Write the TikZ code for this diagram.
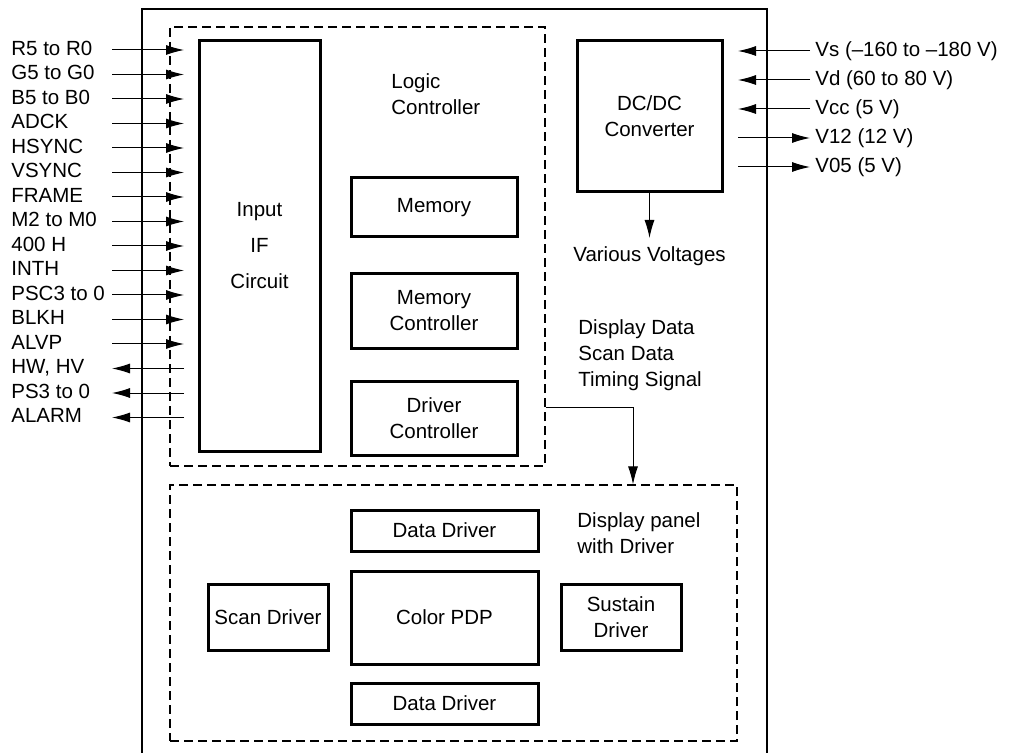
\documentclass[tikz,border=0pt]{standalone}
\usepackage{fontspec}
\setmainfont{Liberation Sans}
\usepackage{tikz}
\usetikzlibrary{positioning}
\usetikzlibrary{arrows.meta}
\usetikzlibrary{math}

\tikzset{
  block/.style={draw, line width=1.5pt, align=center, inner sep=0pt},
  group/.style={draw, line width=0.55pt, dash pattern=on 4.5pt off 2.5pt, inner sep=0pt},
  sig/.style={line width=0.5pt, -{Latex[length=9pt,width=5pt]}},
  siglabel/.style={anchor=west, inner sep=0pt, text height=0.72em, text depth=0.2em},
  note/.style={anchor=west, inner sep=0pt, align=left},
}

\begin{document}
\begin{tikzpicture}[
  x=0.5pt, y=-0.5pt,
  font=\fontsize{10.25}{13}\selectfont,
  ]

  \tikzmath{
    \sigtop  = 50;   % y of first signal on the left
    \sigstep = 24.5; % spacing of the left signals
    \sigin   = 112;  % outer end of the left signal lines
    \sigout  = 184;  % inner end of the left signal lines
    \pwrtop  = 51;   % y of first supply line on the right
    \pwrstep = 29;   % spacing of the supply lines
    \pwrin   = 738;  % inner end of the supply lines
    \pwrout  = 810;  % outer end of the supply lines
  }

  \useasboundingbox (0,0) rectangle (1011,753);

  % Outer frame of the module
  \draw[line width=0.6pt] (142,753) -- (142,9) -- (767,9) -- (767,753);

  % Logic controller
  \node[group, minimum width=187.5pt, minimum height=219.5pt] (logic) at (357.5,246.5) {};
  \node[note] (logiclbl) at (391,94) {Logic\\Controller};
  \node[block, minimum width=60.5pt, minimum height=205pt] (ifc) at (259.5,246) {Input\\[5pt]IF\\[5pt]Circuit};
  \node[block, minimum width=83pt, minimum height=29.5pt] (mem) at (434,207.5) {Memory};
  \node[block, minimum width=83pt, minimum height=37.5pt, below=16.75pt of mem] (memc) {Memory\\Controller};
  \node[block, minimum width=83pt, minimum height=37pt, below=15pt of memc] (drvc) {Driver\\Controller};

  % DC/DC converter
  \node[block, minimum width=72.5pt, minimum height=75.5pt] (dcdc) at (649.5,116.5) {DC/DC\\Converter};
  \node[inner sep=0pt] (volt) at (649.5,256) {Various Voltages};
  \coordinate (vtip) at (dcdc.south |- 0,238);
  \draw[sig] (dcdc.south) -- (vtip);

  % Display panel with driver
  \node[group, minimum width=283.5pt, minimum height=128pt] (panel) at (453.5,613) {};
  \node[note] (panellbl) at (577,533) {Display panel\\with Driver};
  \node[block, minimum width=93.5pt, minimum height=20.5pt] (dtop) at (444.5,530.5) {Data Driver};
  \node[block, minimum width=93.5pt, minimum height=46.5pt, below=8.5pt of dtop] (pdp) {Color PDP};
  \node[block, minimum width=93.5pt, minimum height=20.5pt, below=8pt of pdp] (dbot) {Data Driver};
  \node[block, minimum width=60pt, minimum height=33pt, left=10pt of pdp] (scan) {Scan Driver};
  \node[block, minimum width=60pt, minimum height=33pt, right=10pt of pdp] (sus) {Sustain\\Driver};

  % Data from the logic controller to the panel
  \node[note] (buslbl) at (578,355) {Display Data\\Scan Data\\Timing Signal};
  \coordinate (busA) at (logic.east |- 0,407);
  \coordinate (busB) at (panel.north -| 633,0);
  \draw[sig] (busA) -| (busB);

  % Signals into the IF circuit
  \foreach \name [count=\i from 0] in {R5 to R0, G5 to G0, B5 to B0, ADCK, HSYNC, VSYNC,
      FRAME, M2 to M0, 400 H, INTH, PSC3 to 0, BLKH, ALVP}{
    \node[siglabel] (in\i) at (11, {\sigtop+\sigstep*\i}) {\name};
    \coordinate (inA\i) at (\sigin, {\sigtop+\sigstep*\i});
    \coordinate (inB\i) at (\sigout, {\sigtop+\sigstep*\i});
    \draw[sig] (inA\i) -- (inB\i);
  }

  % Signals out of the IF circuit
  \foreach \name [count=\i from 13] in {{HW, HV}, PS3 to 0, ALARM}{
    \node[siglabel] (out\i) at (11, {\sigtop+\sigstep*\i}) {\name};
    \coordinate (outA\i) at (\sigout, {\sigtop+\sigstep*\i});
    \coordinate (outB\i) at (\sigin, {\sigtop+\sigstep*\i});
    \draw[sig] (outA\i) -- (outB\i);
  }

  % Supplies into the converter
  \foreach \name [count=\i from 0] in {Vs (--160 to --180 V), Vd (60 to 80 V), Vcc (5 V)}{
    \node[siglabel] (pwr\i) at (815, {\pwrtop+\pwrstep*\i}) {\name};
    \coordinate (pwrA\i) at (\pwrout, {\pwrtop+\pwrstep*\i});
    \coordinate (pwrB\i) at (\pwrin, {\pwrtop+\pwrstep*\i});
    \draw[sig] (pwrA\i) -- (pwrB\i);
  }

  % Supplies out of the converter
  \foreach \name [count=\i from 3] in {V12 (12 V), V05 (5 V)}{
    \node[siglabel] (pwr\i) at (815, {\pwrtop+\pwrstep*\i}) {\name};
    \coordinate (pwrA\i) at (\pwrin, {\pwrtop+\pwrstep*\i});
    \coordinate (pwrB\i) at (\pwrout, {\pwrtop+\pwrstep*\i});
    \draw[sig] (pwrA\i) -- (pwrB\i);
  }

\end{tikzpicture}
\end{document}
